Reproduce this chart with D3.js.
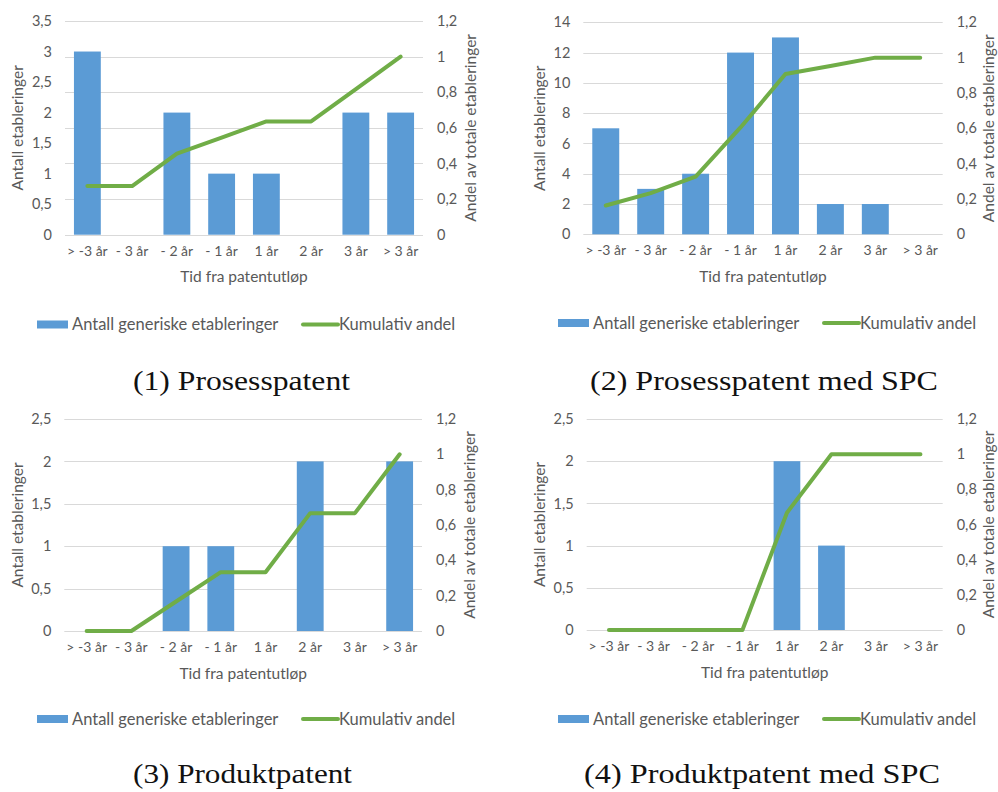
<!DOCTYPE html>
<html>
<head>
<meta charset="utf-8">
<script src="https://cdn.jsdelivr.net/npm/d3@7"></script>
<style>
  html, body { margin: 0; padding: 0; background: #ffffff; }
  svg { display: block; }
</style>
</head>
<body>
<svg id="chart" width="998" height="792"></svg>
<script>
// Time relative to patent expiry
const categories = ["> -3 år", "- 3 år", "- 2 år", "- 1 år", "1 år", "2 år", "3 år", "> 3 år"];

// Number of generic entries per period
const prosessCounts    = [3, 0, 2, 1, 1, 0, 2, 2];
const prosessSpcCounts = [7, 3, 4, 12, 13, 2, 2, 0];
const produktCounts    = [0, 0, 1, 1, 0, 2, 0, 2];
const produktSpcCounts = [0, 0, 0, 0, 2, 1, 0, 0];

// Cumulative share of all entries
const prosessShare    = [0.273, 0.273, 0.455, 0.545, 0.636, 0.636, 0.818, 1];
const prosessSpcShare = [0.163, 0.233, 0.326, 0.605, 0.907, 0.953, 1, 1];
const produktShare    = [0, 0, 0.167, 0.333, 0.333, 0.667, 0.667, 1];
const produktSpcShare = [0, 0, 0, 0, 0.667, 1, 1, 1];

// Axis tick values
const countTicksProsess    = [0, 0.5, 1, 1.5, 2, 2.5, 3, 3.5];
const countTicksProsessSpc = [0, 2, 4, 6, 8, 10, 12, 14];
const countTicksProdukt    = [0, 0.5, 1, 1.5, 2, 2.5];
const shareTicks           = [0, 0.2, 0.4, 0.6, 0.8, 1, 1.2];

// Text
const barLegend = "Antall generiske etableringer";
const lineLegend = "Kumulativ andel";
const leftTitle = "Antall etableringer";
const rightTitle = "Andel av totale etableringer";
const xTitle = "Tid fra patentutløp";
const captions = ["(1) Prosesspatent", "(2) Prosesspatent med SPC", "(3) Produktpatent", "(4) Produktpatent med SPC"];

const BAR = "#5B9BD5", LINE = "#70AD47", TEXT = "#595959", GRID = "#D9D9D9";
const FONT = "Lato, 'Open Sans', sans-serif";

const svg = d3.select("#chart");
svg.append("rect").attr("width", 998).attr("height", 792).attr("fill", "#fff");

const fmt = v => String(+v.toFixed(2)).replace(".", ",");

const panels = [
  { counts: prosessCounts, share: prosessShare, ticks: countTicksProsess, gridFromShare: true,
    left: 65, right: 423, top: 21, bottom: 234.7, leftTitleX: 18, rightTitleX: 471,
    xTickY: 253, xTitleY: 277, legendY: 324.5, legendX: 37,
    caption: captions[0], capX: 133, capW: 217, capY: 390 },
  { counts: prosessSpcCounts, share: prosessSpcShare, ticks: countTicksProsessSpc, gridFromShare: false,
    left: 583.3, right: 942.7, top: 22.3, bottom: 234.3, leftTitleX: 540, rightTitleX: 989,
    xTickY: 252, xTitleY: 277, legendY: 323, legendX: 558,
    caption: captions[1], capX: 590, capW: 348, capY: 390 },
  { counts: produktCounts, share: produktShare, ticks: countTicksProdukt, gridFromShare: false,
    left: 64.3, right: 422, top: 419, bottom: 631, leftTitleX: 18, rightTitleX: 470,
    xTickY: 649, xTitleY: 674, legendY: 719, legendX: 37,
    caption: captions[2], capX: 133, capW: 219, capY: 783 },
  { counts: produktSpcCounts, share: produktSpcShare, ticks: countTicksProdukt, gridFromShare: false,
    left: 586.7, right: 942.7, top: 419, bottom: 630, leftTitleX: 540, rightTitleX: 989,
    xTickY: 648, xTitleY: 673, legendY: 719, legendX: 558,
    caption: captions[3], capX: 584, capW: 356, capY: 783 }
];

panels.forEach(p => {
  const g = svg.append("g");
  const x = d3.scaleBand().domain(categories).range([p.left, p.right]).paddingInner(0.4).paddingOuter(0.2);
  const yCount = d3.scaleLinear().domain([0, d3.max(p.ticks)]).range([p.bottom, p.top]);
  const yShare = d3.scaleLinear().domain([0, 1.2]).range([p.bottom, p.top]);

  // gridlines
  const gridVals = p.gridFromShare ? shareTicks.map(yShare) : p.ticks.map(yCount);
  g.append("g").selectAll("line").data(gridVals).join("line")
    .attr("x1", p.left).attr("x2", p.right)
    .attr("y1", d => Math.round(d) + 0.5).attr("y2", d => Math.round(d) + 0.5)
    .attr("stroke", GRID).attr("stroke-width", 1);

  // bars
  g.append("g").selectAll("rect").data(p.counts).join("rect")
    .attr("x", (d, i) => x(categories[i]))
    .attr("width", x.bandwidth())
    .attr("y", d => yCount(d))
    .attr("height", d => p.bottom - yCount(d))
    .attr("fill", BAR);

  // cumulative line
  const line = d3.line()
    .x((d, i) => x(categories[i]) + x.bandwidth() / 2)
    .y(d => yShare(d));
  g.append("path").datum(p.share).attr("d", line)
    .attr("fill", "none").attr("stroke", LINE).attr("stroke-width", 4)
    .attr("stroke-linejoin", "round").attr("stroke-linecap", "round");

  // left axis
  const la = g.append("g").attr("transform", `translate(${p.left - 13},0)`)
    .call(d3.axisLeft(yCount).tickValues(p.ticks).tickFormat(fmt).tickSize(0).tickPadding(0));
  la.select(".domain").remove();
  la.selectAll("text").attr("fill", TEXT).style("font-family", FONT).style("font-size", "14.5px");

  // right axis
  const ra = g.append("g").attr("transform", `translate(${p.right + 14},0)`)
    .call(d3.axisRight(yShare).tickValues(shareTicks).tickFormat(fmt).tickSize(0).tickPadding(0));
  ra.select(".domain").remove();
  ra.selectAll("text").attr("fill", TEXT).style("font-family", FONT).style("font-size", "14.5px");

  // x axis labels
  const xa = g.append("g").attr("transform", `translate(0,${p.xTickY - 7})`)
    .call(d3.axisBottom(x).tickSize(0).tickPadding(0));
  xa.select(".domain").remove();
  xa.selectAll("text").attr("fill", TEXT).attr("dy", "0.71em").style("font-family", FONT).style("font-size", "14px");

  // axis titles
  const cy = (p.top + p.bottom) / 2;
  g.append("text").attr("transform", `translate(${p.leftTitleX},${cy}) rotate(-90)`)
    .attr("text-anchor", "middle").attr("dy", "0.35em")
    .attr("fill", TEXT).style("font-family", FONT).style("font-size", "15.5px").text(leftTitle);
  g.append("text").attr("transform", `translate(${p.rightTitleX},${cy}) rotate(-90)`)
    .attr("text-anchor", "middle").attr("dy", "0.35em")
    .attr("fill", TEXT).style("font-family", FONT).style("font-size", "15.5px").text(rightTitle);
  g.append("text").attr("x", (p.left + p.right) / 2).attr("y", p.xTitleY)
    .attr("text-anchor", "middle").attr("dy", "0.35em")
    .attr("fill", TEXT).style("font-family", FONT).style("font-size", "15.5px").text(xTitle);

  // legend
  const lg = g.append("g").attr("transform", `translate(${p.legendX},${p.legendY})`);
  lg.append("rect").attr("x", 0).attr("y", -4).attr("width", 31).attr("height", 8).attr("fill", BAR);
  lg.append("text").attr("x", 35).attr("dy", "0.35em").attr("fill", TEXT)
    .style("font-family", FONT).style("font-size", "16.5px").text(barLegend);
  lg.append("line").attr("x1", 266).attr("x2", 301).attr("stroke", LINE).attr("stroke-width", 4)
    .attr("stroke-linecap", "round");
  lg.append("text").attr("x", 302).attr("dy", "0.35em").attr("fill", TEXT)
    .style("font-family", FONT).style("font-size", "16.5px").text(lineLegend);

  // caption
  svg.append("text").attr("x", p.capX).attr("y", p.capY)
    .attr("textLength", p.capW).attr("lengthAdjust", "spacingAndGlyphs")
    .attr("fill", "#111").style("font-family", "'Liberation Serif', 'DejaVu Serif', serif")
    .style("font-size", "27px").text(p.caption);
});
</script>
</body>
</html>
